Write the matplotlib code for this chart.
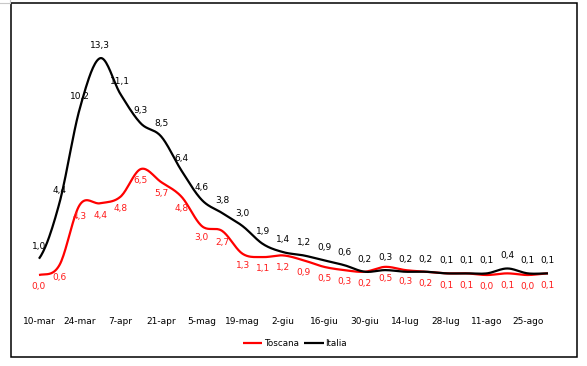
import numpy as np
import matplotlib.pyplot as plt
from matplotlib.lines import Line2D

# weekly points, ticks every two weeks
tick_labels = ["10-mar", "24-mar", "7-apr", "21-apr", "5-mag", "19-mag", "2-giu",
               "16-giu", "30-giu", "14-lug", "28-lug", "11-ago", "25-ago"]

italia = [1.0, 4.4, 10.2, 13.3, 11.1, 9.3, 8.5, 6.4, 4.6, 3.8, 3.0, 1.9, 1.4,
          1.2, 0.9, 0.6, 0.2, 0.3, 0.2, 0.2, 0.1, 0.1, 0.1, 0.4, 0.1, 0.1]
toscana = [0.0, 0.6, 4.3, 4.4, 4.8, 6.5, 5.7, 4.8, 3.0, 2.7, 1.3, 1.1, 1.2,
           0.9, 0.5, 0.3, 0.2, 0.5, 0.3, 0.2, 0.1, 0.1, 0.0, 0.1, 0.0, 0.1]


def smooth(y, n=20):
    """Catmull-Rom curve through the points, like Excel's smoothed line."""
    y = np.asarray(y, float)
    x = np.arange(len(y), dtype=float)
    px = np.concatenate([[2 * x[0] - x[1]], x, [2 * x[-1] - x[-2]]])
    py = np.concatenate([[y[0]], y, [y[-1]]])
    xs, ys = [], []
    t = np.linspace(0, 1, n, endpoint=False)
    for i in range(1, len(px) - 2):
        for p, out in ((px, xs), (py, ys)):
            p0, p1, p2, p3 = p[i - 1], p[i], p[i + 1], p[i + 2]
            out.extend(0.5 * (2 * p1 + (-p0 + p2) * t
                              + (2 * p0 - 5 * p1 + 4 * p2 - p3) * t ** 2
                              + (-p0 + 3 * p1 - 3 * p2 + p3) * t ** 3))
    xs.append(x[-1])
    ys.append(y[-1])
    return np.array(xs), np.array(ys)


W, H = 587, 366
fig = plt.figure(figsize=(W / 100, H / 100), dpi=100)
ax = fig.add_axes([0, 0, 1, 1])
ax.axis("off")

# pixel mapping: point 0 at x=39px, 20.36 px per week; value 0 at y=275px, 16.3 px per unit
step, x0 = 20.36, 39
unit, y0 = 16.3, 275
ax.set_xlim(-x0 / step, (W - x0) / step)
ax.set_ylim(-(H - y0) / unit, y0 / unit)

red = "#ff0000"
for vals, col, lab in ((toscana, red, "Toscana"), (italia, "black", "Italia")):
    sx, sy = smooth(vals)
    ax.plot(sx, sy, color=col, lw=1.6, solid_capstyle="butt", label=lab)

fs = 6.5
for i, v in enumerate(italia):
    ax.annotate(f"{v:.1f}".replace(".", ","), (i, v), xytext=(0, 9),
                textcoords="offset points", ha="center", va="center",
                fontsize=fs, color="black")
for i, v in enumerate(toscana):
    ax.annotate(f"{v:.1f}".replace(".", ","), (i, v), xytext=(0, -8.5),
                textcoords="offset points", ha="center", va="center",
                fontsize=fs, color="#ff1a1a")

# category labels under the plot
for k, lab in enumerate(tick_labels):
    ax.text(2 * k, -(322 - y0) / unit, lab, ha="center", va="center",
            fontsize=fs, color="black")

# chart border
tf = fig.transFigure
fig.add_artist(plt.Rectangle((10.5 / W, 1 - 356.5 / H), 566 / W, 353.5 / H,
                             transform=tf, fill=False, ec="black", lw=1.1))
fig.add_artist(Line2D([0, 10 / W], [1 - 3 / H] * 2, transform=tf, color="#c8c8c8", lw=0.8))
fig.add_artist(Line2D([10 / W] * 2, [1, 1 - 3 / H], transform=tf, color="#c8c8c8", lw=0.8))

fig.legend(loc="center", bbox_to_anchor=(295 / W, 1 - 344 / H), ncol=2,
           frameon=False, fontsize=6.3, handlelength=2.2, handletextpad=0.2,
           columnspacing=0.6, borderpad=0)

fig.savefig("out.png", dpi=100)
plt.close(fig)
